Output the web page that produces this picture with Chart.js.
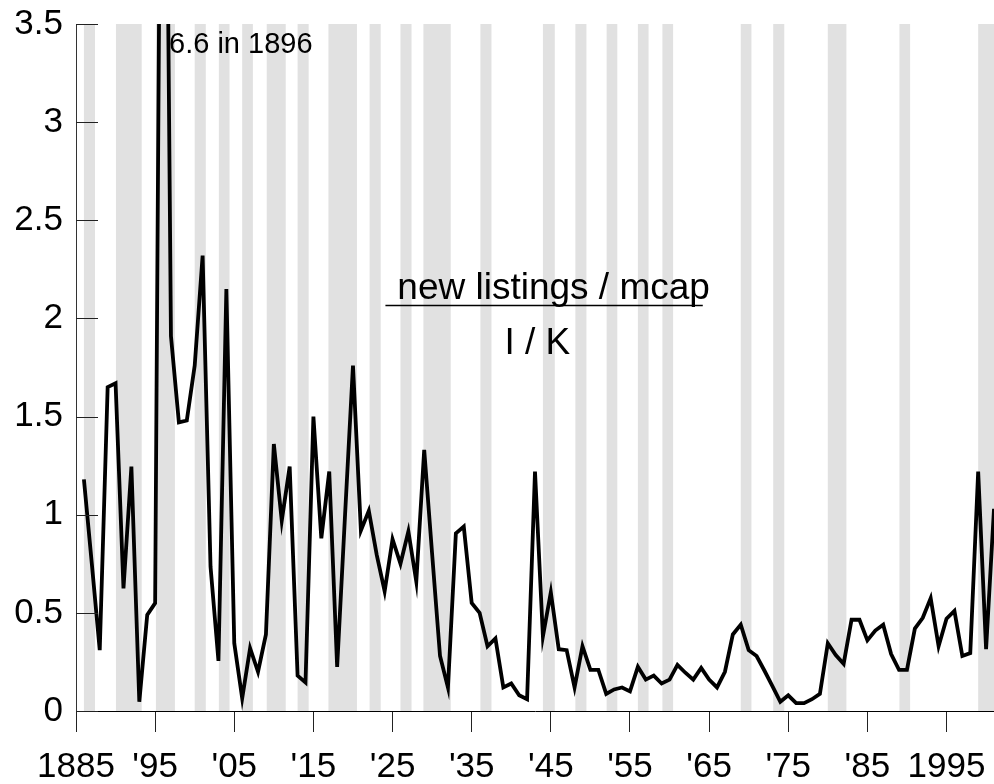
<!DOCTYPE html>
<html>
<head>
<meta charset="utf-8">
<script src="https://cdn.jsdelivr.net/npm/chart.js@4.4.0/dist/chart.umd.min.js"></script>
<style>
  body { margin: 0; background: #fff; }
  #wrap { width: 994px; height: 784px; }
</style>
</head>
<body>
<div id="wrap"><canvas id="ikChart"></canvas></div>
<script>
// new listings / market cap, annual
const years = [];
for (let y = 1886; y <= 2001; y++) years.push(y);

const ikValues = [
  1.18, 0.75, 0.31, 1.65, 1.67, 0.625, 1.245, 0.047, 0.49, 0.55,      // 1886-1895
  6.6, 1.91, 1.47, 1.48, 1.76, 2.32, 0.735, 0.255, 2.15, 0.345,       // 1896-1905
  0.065, 0.32, 0.20, 0.39, 1.36, 0.97, 1.245, 0.18, 0.145, 1.50,      // 1906-1915
  0.88, 1.22, 0.225, 1.0, 1.76, 0.92, 1.02, 0.795, 0.61, 0.875,       // 1916-1925
  0.75, 0.915, 0.66, 1.33, 0.8, 0.28, 0.12, 0.905, 0.94, 0.55,        // 1926-1935
  0.50, 0.33, 0.37, 0.12, 0.14, 0.08, 0.06, 1.22, 0.38, 0.605,        // 1936-1945
  0.315, 0.31, 0.12, 0.33, 0.21, 0.21, 0.087, 0.11, 0.12, 0.10,       // 1946-1955
  0.225, 0.16, 0.18, 0.14, 0.16, 0.235, 0.195, 0.16, 0.22, 0.16,      // 1956-1965
  0.12, 0.20, 0.39, 0.44, 0.31, 0.28, 0.205, 0.127, 0.047, 0.08,      // 1966-1975
  0.04, 0.04, 0.06, 0.087, 0.345, 0.285, 0.24, 0.465, 0.465, 0.36,    // 1976-1985
  0.41, 0.44, 0.29, 0.21, 0.21, 0.42, 0.475, 0.575, 0.33, 0.47,       // 1986-1995
  0.51, 0.28, 0.295, 1.22, 0.315, 1.03                                // 1996-2001
];

// shaded recession periods
const bandStart = [1886.0, 1890.05, 1895.1, 1900.0, 1903.05, 1906.0, 1909.1, 1913.0, 1916.9, 1922.1, 1926.0, 1928.9,
  1936.1, 1944.0, 1948.1, 1952.05, 1956.0, 1959.1, 1969.0, 1973.1, 1980.0, 1989.05, 1999.0];
const bandEnd = [1887.4, 1893.3, 1897.5, 1901.4, 1904.4, 1907.35, 1911.5, 1914.4, 1920.5, 1923.5, 1927.4, 1932.35,
  1937.5, 1945.5, 1949.5, 1953.4, 1957.35, 1960.45, 1970.35, 1974.5, 1982.35, 1990.4, 2001];

const xTickYears = [1885, 1895, 1905, 1915, 1925, 1935, 1945, 1955, 1965, 1975, 1985, 1995];
const xTickLabels = ['1885', "'95", "'05", "'15", "'25", "'35", "'45", "'55", "'65", "'75", "'85", '1995'];

const FONT = '"Liberation Sans", Arial, sans-serif';

const bandPlugin = {
  id: 'bands',
  beforeDraw(chart) {
    const { ctx, chartArea, scales: { x } } = chart;
    ctx.save();
    ctx.fillStyle = '#e1e1e1';
    bandStart.forEach((s, i) => {
      const x0 = x.getPixelForValue(s);
      const x1 = Math.min(x.getPixelForValue(bandEnd[i]), chartArea.right);
      ctx.fillRect(x0, chartArea.top, x1 - x0, chartArea.bottom - chartArea.top + 1);
    });
    ctx.restore();
  },
  afterDatasetsDraw(chart) {
    const { ctx, chartArea, scales: { x, y } } = chart;
    ctx.save();
    // inward ticks on the y axis
    ctx.strokeStyle = '#222';
    ctx.lineWidth = 1;
    y.ticks.forEach(t => {
      const py = Math.round(y.getPixelForValue(t.value)) + 0.5;
      ctx.beginPath();
      ctx.moveTo(chartArea.left, py);
      ctx.lineTo(chartArea.left + 22, py);
      ctx.stroke();
    });

    ctx.fillStyle = '#000';
    ctx.textBaseline = 'alphabetic';

    // off-scale peak note
    ctx.font = '29px ' + FONT;
    ctx.textAlign = 'left';
    ctx.fillText('6.6 in 1896', x.getPixelForValue(1896) + 6, y.getPixelForValue(3.5) + 29);

    // ratio label
    ctx.font = '37px ' + FONT;
    ctx.textAlign = 'center';
    ctx.fillText('new listings / mcap', x.getPixelForValue(1945.35), y.getPixelForValue(2.1));
    ctx.fillText('I / K', x.getPixelForValue(1943.3), y.getPixelForValue(1.82));
    ctx.lineWidth = 1.5;
    ctx.strokeStyle = '#000';
    const uy = Math.round(y.getPixelForValue(2.07)) + 0.5;
    ctx.beginPath();
    ctx.moveTo(x.getPixelForValue(1924.1), uy);
    ctx.lineTo(x.getPixelForValue(1964.2), uy);
    ctx.stroke();
    ctx.restore();
  }
};

new Chart(document.getElementById('ikChart'), {
  type: 'line',
  data: {
    labels: years,
    datasets: [{
      label: 'I / K',
      data: years.map((yr, i) => ({ x: yr, y: ikValues[i] })),
      borderColor: '#000',
      borderWidth: 3.8,
      pointRadius: 0,
      tension: 0,
      fill: false,
    }],
  },
  options: {
    responsive: true,
    maintainAspectRatio: false,
    animation: false,
    layout: {
      padding: { top: 24, right: 0, bottom: 0, left: 0 },
    },
    plugins: {
      legend: { display: false },
      tooltip: { enabled: false },
    },
    scales: {
      x: {
        type: 'linear',
        min: 1885,
        max: 2001,
        afterBuildTicks: scale => { scale.ticks = xTickYears.map(v => ({ value: v })); },
        afterFit: scale => {
          scale.height = 73;
          scale.paddingLeft = 0;
          scale.paddingRight = 0;
        },
        grid: { drawOnChartArea: false, drawTicks: true, tickLength: 21, color: '#222', lineWidth: 1 },
        border: { display: true, color: '#000', width: 1 },
        ticks: {
          autoSkip: false,
          maxRotation: 0,
          padding: 14,
          color: '#000',
          font: { family: FONT, size: 35 },
          callback: (value, index) => xTickLabels[index],
        },
      },
      y: {
        min: 0,
        max: 3.5,
        afterFit: scale => {
          scale.width = 76;
          scale.paddingTop = 0;
          scale.paddingBottom = 0;
        },
        grid: { drawOnChartArea: false, drawTicks: false },
        border: { display: true, color: '#333', width: 1 },
        ticks: {
          stepSize: 0.5,
          padding: 13,
          color: '#000',
          font: { family: FONT, size: 35 },
          callback: value => String(value),
        },
      },
    },
  },
  plugins: [bandPlugin],
});
</script>
</body>
</html>
